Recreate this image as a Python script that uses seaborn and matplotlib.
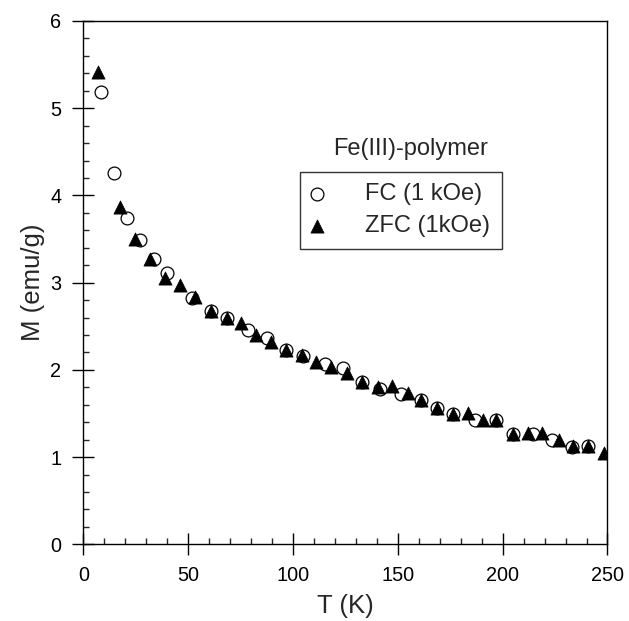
import pandas as pd
import matplotlib.pyplot as plt
import seaborn as sns
from matplotlib.ticker import MultipleLocator

# === Data ===
fc_T = [8.4, 14.6, 20.7, 27.0, 33.7, 39.8, 51.7, 60.7, 68.4, 78.7, 87.4, 96.7,
        104.9, 115.3, 124.0, 132.8, 141.5, 151.5, 160.9, 168.8, 176.5, 186.8,
        196.8, 205.0, 214.3, 223.4, 232.9, 240.8]
fc_M = [5.19, 4.26, 3.74, 3.49, 3.27, 3.11, 2.82, 2.67, 2.60, 2.46, 2.37, 2.23,
        2.16, 2.07, 2.02, 1.86, 1.78, 1.72, 1.65, 1.56, 1.49, 1.43,
        1.43, 1.27, 1.26, 1.20, 1.12, 1.13]

zfc_T = [7.2, 17.5, 24.7, 31.8, 39.0, 46.1, 53.3, 60.7, 68.4, 75.0, 82.4, 89.4,
         96.7, 104.5, 111.0, 118.0, 125.6, 132.8, 140.7, 147.0, 155.0, 160.9,
         168.8, 176.5, 183.6, 190.7, 196.8, 205.0, 212.2, 219.0, 227.0, 233.7,
         240.8, 248.3]
zfc_M = [5.42, 3.87, 3.50, 3.27, 3.05, 2.97, 2.83, 2.67, 2.60, 2.54, 2.40, 2.32,
         2.23, 2.17, 2.09, 2.03, 1.96, 1.86, 1.80, 1.81, 1.73, 1.65,
         1.56, 1.49, 1.51, 1.43, 1.43, 1.27, 1.28, 1.28, 1.20, 1.13,
         1.13, 1.05]

fc = pd.DataFrame({"T": fc_T, "M": fc_M})
zfc = pd.DataFrame({"T": zfc_T, "M": zfc_M})

# === Style ===
sns.set_style("white")
plt.rcParams["font.family"] = ["Liberation Sans", "DejaVu Sans"]
plt.rcParams.update({
    "axes.linewidth": 1.0,
    "axes.edgecolor": "black",
})

TICK_FS = 14.3
LABEL_FS = 18.5
LEG_FS = 17

fig = plt.figure(figsize=(6.29, 6.21), dpi=100)
ax = fig.add_axes([0.1324, 0.1235, 0.8334, 0.8427])

sns.scatterplot(data=fc, x="T", y="M", ax=ax, marker="o", s=85,
                facecolor="white", edgecolor="black", linewidth=0.9,
                label="FC (1 kOe)", zorder=3)
sns.scatterplot(data=zfc, x="T", y="M", ax=ax, marker="^", s=90,
                color="black", edgecolor="black", linewidth=0.5,
                label="ZFC (1kOe)", zorder=4)

ax.set_xlim(0, 250)
ax.set_ylim(0, 6)
ax.xaxis.set_major_locator(MultipleLocator(50))
ax.xaxis.set_minor_locator(MultipleLocator(10))
ax.yaxis.set_major_locator(MultipleLocator(1))
ax.yaxis.set_minor_locator(MultipleLocator(0.2))
ax.tick_params(which="major", direction="inout", length=15.5, width=1.0,
               labelsize=TICK_FS, pad=8, bottom=True, left=True, top=False,
               right=False, colors="black")
ax.tick_params(which="minor", direction="in", length=4.3, width=1.0,
               bottom=True, left=True, top=False, right=False)

ax.set_xlabel("T (K)", fontsize=LABEL_FS, labelpad=6.5)
ax.set_ylabel("M (emu/g)", fontsize=LABEL_FS, labelpad=3.5)

# === Legend (title drawn above the box) ===
leg = ax.legend(loc="upper left", bbox_to_anchor=(0.4134, 0.712),
                borderaxespad=0, fontsize=LEG_FS, frameon=True, fancybox=False,
                edgecolor="black", borderpad=0.49, handlelength=0.44,
                handletextpad=1.83, labelspacing=0.41)
leg.get_frame().set_linewidth(1.0)
ax.text(0.625, 0.7554, "Fe(III)-polymer", transform=ax.transAxes,
        ha="center", va="center", fontsize=LEG_FS)

fig.savefig("out.png", dpi=100)
plt.close(fig)
